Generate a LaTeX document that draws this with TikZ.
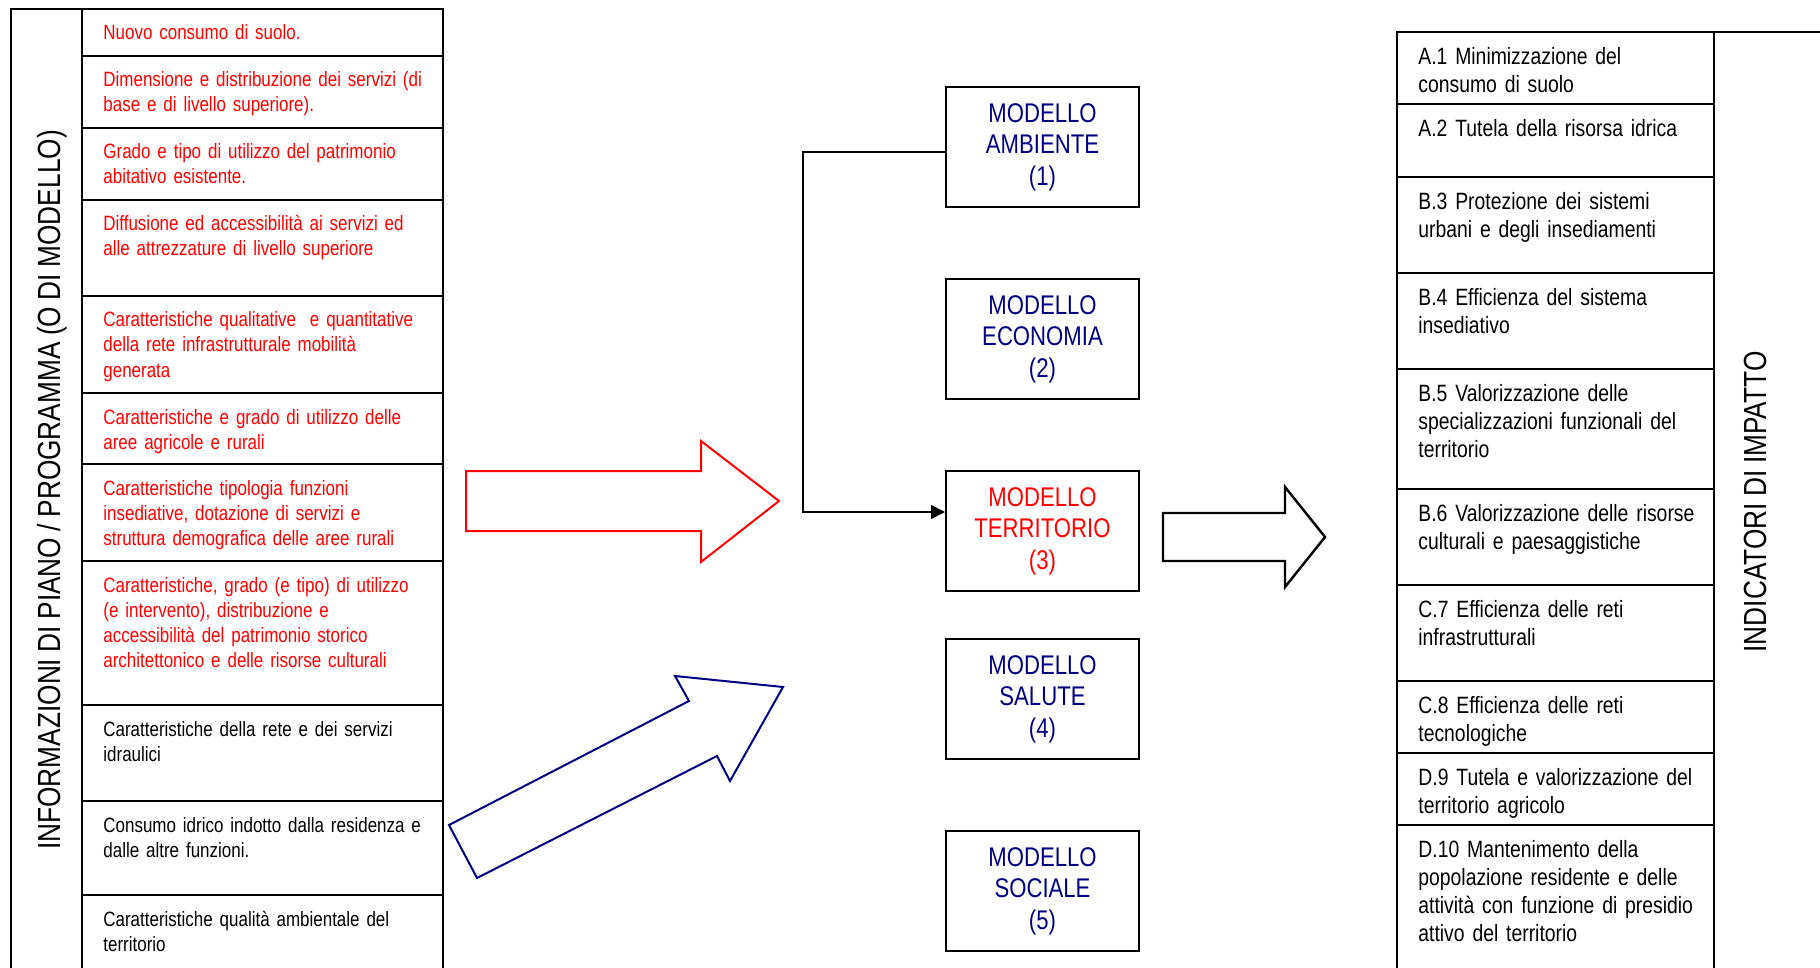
\documentclass[tikz,border=0pt]{standalone}
\usepackage{fontspec}
\setmainfont[FakeStretch=0.82,WordSpace=0.9]{Liberation Sans}
\usetikzlibrary{arrows.meta}
\definecolor{navy}{RGB}{0,0,128}
\begin{document}
\begin{tikzpicture}[x=0.5pt,y=-0.5pt,
  tline/.style={line width=1pt, black},
  lcell/.style={anchor=base west, inner sep=0pt, text width=200pt, align=left, font=\fontsize{10.35}{12.5}\selectfont},
  rcell/.style={anchor=base west, inner sep=0pt, text width=180pt, align=left, font=\fontsize{11.8}{14}\selectfont},
  modbox/.style={draw, line width=1pt, minimum width=96.5pt, minimum height=60pt, inner sep=0pt, align=center, text=navy, font=\fontsize{13.5}{15.8}\selectfont},
  vlabel/.style={rotate=90, anchor=base, inner sep=0pt, font=\fontsize{16}{19}\selectfont},
  conn/.style={line width=0.8pt, black},
  bigarrow/.style={line width=1pt, line join=miter},
]
\useasboundingbox (0,0) rectangle (1820,968);

% left table
\draw[tline] (11,968) -- (11,9) -- (443,9) -- (443,968);
\draw[tline] (82,9) -- (82,968);
\foreach \yy in {56,128,200,296,393,464,561,705,801,895}
  \draw[tline] (82,\yy) -- (443,\yy);
\node[vlabel] (linfo) at (61,490) {INFORMAZIONI DI PIANO / PROGRAMMA (O DI MODELLO)};

\node[lcell, text=red] (l1) at (103,40) {Nuovo consumo di suolo.};
\node[lcell, text=red] (l2) at (103,87) {Dimensione e distribuzione dei servizi (di\\base e di livello superiore).};
\node[lcell, text=red] (l3) at (103,159) {Grado e tipo di utilizzo del patrimonio\\abitativo esistente.};
\node[lcell, text=red] (l4) at (103,231) {Diffusione ed accessibilità ai servizi ed\\alle attrezzature di livello superiore};
\node[lcell, text=red] (l5) at (103,327) {Caratteristiche qualitative\ \ e quantitative\\della rete infrastrutturale mobilità\\generata};
\node[lcell, text=red] (l6) at (103,424) {Caratteristiche e grado di utilizzo delle\\aree agricole e rurali};
\node[lcell, text=red] (l7) at (103,495) {Caratteristiche tipologia funzioni\\insediative, dotazione di servizi e\\struttura demografica delle aree rurali};
\node[lcell, text=red] (l8) at (103,592) {Caratteristiche, grado (e tipo) di utilizzo\\(e intervento), distribuzione e\\accessibilità del patrimonio storico\\architettonico e delle risorse culturali};
\node[lcell] (l9) at (103,736) {Caratteristiche della rete e dei servizi\\idraulici};
\node[lcell] (l10) at (103,832) {Consumo idrico indotto dalla residenza e\\dalle altre funzioni.};
\node[lcell] (l11) at (103,926) {Caratteristiche qualità ambientale del\\territorio};

% right table
\draw[tline] (1397,968) -- (1397,32.5) -- (1820,32.5);
\draw[tline] (1714,32.5) -- (1714,968);
\foreach \yy in {104,177,273,369,489,585,681,753,825}
  \draw[tline] (1397,\yy) -- (1714,\yy);
\node[vlabel] (rind) at (1766,502) {INDICATORI DI IMPATTO};

\node[rcell] (r1) at (1418,65) {A.1 Minimizzazione del\\consumo di suolo};
\node[rcell] (r2) at (1418,136.5) {A.2 Tutela della risorsa idrica};
\node[rcell] (r3) at (1418,209.5) {B.3 Protezione dei sistemi\\urbani e degli insediamenti};
\node[rcell] (r4) at (1418,305.5) {B.4 Efficienza del sistema\\insediativo};
\node[rcell] (r5) at (1418,401.5) {B.5 Valorizzazione delle\\specializzazioni funzionali del\\territorio};
\node[rcell] (r6) at (1418,521.5) {B.6 Valorizzazione delle risorse\\culturali e paesaggistiche};
\node[rcell] (r7) at (1418,617.5) {C.7 Efficienza delle reti\\infrastrutturali};
\node[rcell] (r8) at (1418,713.5) {C.8 Efficienza delle reti\\tecnologiche};
\node[rcell] (r9) at (1418,785.5) {D.9 Tutela e valorizzazione del\\territorio agricolo};
\node[rcell] (r10) at (1418,857.5) {D.10 Mantenimento della\\popolazione residente e delle\\attività con funzione di presidio\\attivo del territorio};

% model boxes
\node[modbox] (amb) at (1042.5,147) {MODELLO\\AMBIENTE\\(1)};
\node[modbox] (eco) at (1042.5,339) {MODELLO\\ECONOMIA\\(2)};
\node[modbox, text=red] (ter) at (1042.5,531) {MODELLO\\TERRITORIO\\(3)};
\node[modbox] (sal) at (1042.5,699) {MODELLO\\SALUTE\\(4)};
\node[modbox] (soc) at (1042.5,891) {MODELLO\\SOCIALE\\(5)};

% connector
\coordinate (bend) at (803,330);
\draw[conn, -{Triangle[length=7pt,width=7pt]}] ([yshift=-2.5pt]amb.west) -| (bend) |- ([yshift=9.5pt]ter.west);

% big arrows
\draw[bigarrow, red] (466,471) -- (701,471) -- (701,441) -- (779,501) -- (701,562) -- (701,531) -- (466,531) -- cycle;
\draw[bigarrow, navy] (449,825) -- (689,701) -- (675,676) -- (783,687) -- (730,781) -- (717,756) -- (477,878) -- cycle;
\draw[bigarrow, black, line width=1.2pt] (1163,513) -- (1285,513) -- (1285,487) -- (1325,537) -- (1285,587) -- (1285,561) -- (1163,561) -- cycle;
\end{tikzpicture}
\end{document}
